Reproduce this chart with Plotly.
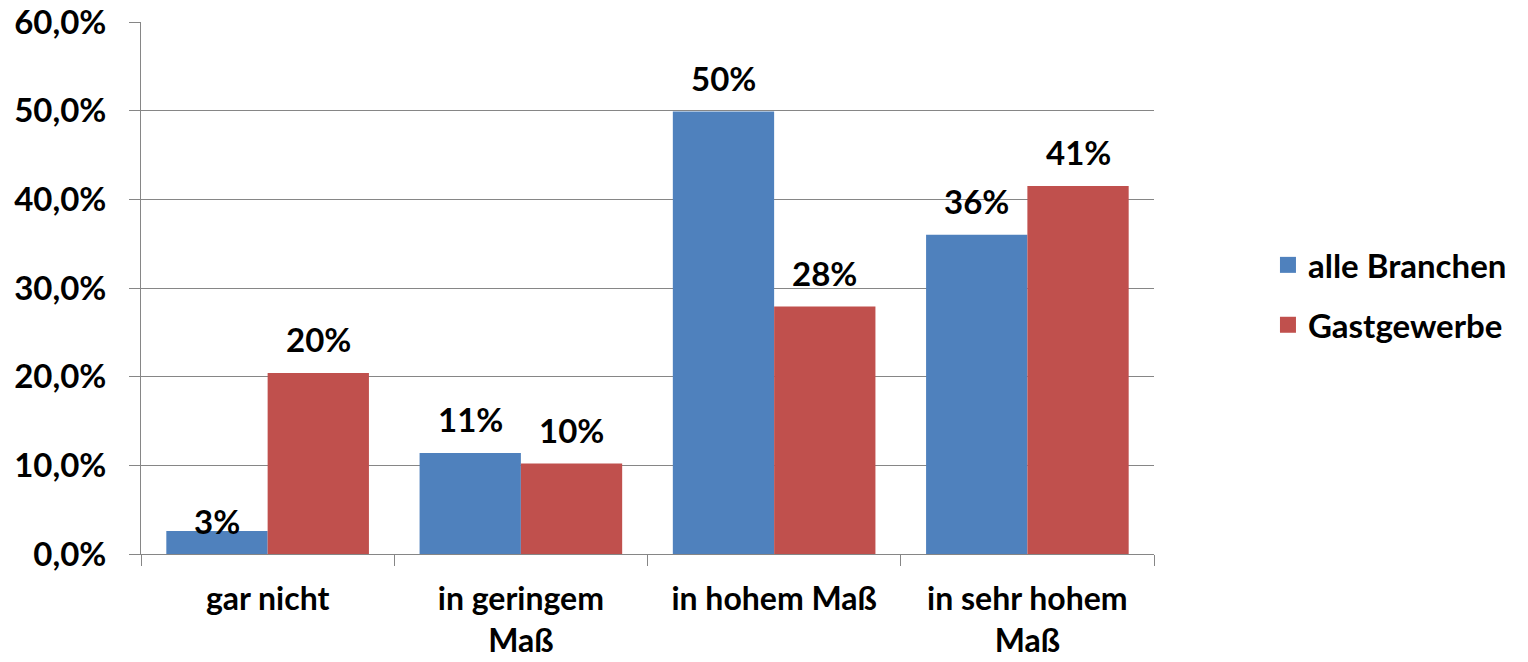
import plotly.graph_objects as go

categories = ["gar nicht", "in geringem<br>Maß", "in hohem Maß", "in sehr hohem<br>Maß"]
alle_branchen = [2.6, 11.4, 49.9, 36.0]
gastgewerbe = [20.4, 10.2, 27.9, 41.5]
alle_labels = ["3%", "11%", "50%", "36%"]
gast_labels = ["20%", "10%", "28%", "41%"]
series_names = ["alle Branchen", "Gastgewerbe"]
y_ticks = [0, 10, 20, 30, 40, 50, 60]
y_tick_labels = ["0,0%", "10,0%", "20,0%", "30,0%", "40,0%", "50,0%", "60,0%"]

FONT = "Lato"
FS = 33
GRID = "#868686"
COLORS = ["#4F81BD", "#C0504D"]
W, H = 1528, 662
ML, MR, MT, MB = 141, 374, 22, 108
BARGAP = 0.2

fig = go.Figure()
for name, vals, col in zip(series_names, [alle_branchen, gastgewerbe], COLORS):
    fig.add_trace(go.Bar(
        x=categories, y=vals, name=name, showlegend=False,
        marker=dict(color=col, line=dict(width=0)),
    ))
# legend entries with larger square symbols
for i, (name, col) in enumerate(zip(series_names, COLORS)):
    fig.add_trace(go.Scatter(
        x=[None], y=[None], mode="markers", name=name, legendgroup=str(i),
        marker=dict(symbol="square", size=20, color=col),
    ))

# data labels placed through the axes' scales
plot_w = W - ML - MR
bar_px = plot_w / len(categories) * (1 - BARGAP) / 2
annotations = []
for series, labels, side in ((alle_branchen, alle_labels, -1), (gastgewerbe, gast_labels, 1)):
    for cat, val, lab in zip(categories, series, labels):
        shift = 34 if val > 5 else 10
        annotations.append(dict(
            x=cat, y=val, xref="x", yref="y", text=lab, showarrow=False,
            xshift=side * bar_px / 2, yshift=shift, yanchor="middle",
            font=dict(family=FONT, size=FS, color="black", weight="bold"),
        ))

fig.update_layout(
    width=W, height=H,
    margin=dict(l=ML, r=MR, t=MT, b=MB, autoexpand=False),
    paper_bgcolor="white", plot_bgcolor="white",
    barmode="group", bargap=BARGAP, bargroupgap=0,
    font=dict(family=FONT, size=FS, color="black", weight="bold"),
    legend=dict(x=1.1125, y=0.487, xanchor="left", yanchor="middle",
                font=dict(family=FONT, size=FS, color="black", weight="bold"),
                tracegroupgap=14, traceorder="grouped"),
    showlegend=True,
    annotations=annotations,
)
fig.update_yaxes(
    range=[0, 60], tickvals=y_ticks, ticktext=y_tick_labels,
    showgrid=True, gridcolor=GRID, gridwidth=1,
    showline=True, linecolor=GRID, linewidth=1,
    ticks="outside", ticklen=11, tickcolor=GRID, ticklabelstandoff=16,
    zeroline=False, automargin=False, ticklabeloverflow="allow",
    tickfont=dict(family=FONT, size=FS, color="black", weight="bold"),
)
fig.update_xaxes(
    showline=True, linecolor=GRID, linewidth=1,
    ticks="outside", tickson="boundaries", ticklen=11, tickcolor=GRID,
    ticklabelstandoff=17, automargin=False, ticklabeloverflow="allow",
    tickfont=dict(family=FONT, size=32, color="black", weight="bold"),
)

fig.write_html("out.html", config={"displayModeBar": False},
               post_script="document.body.style.margin='0';")
